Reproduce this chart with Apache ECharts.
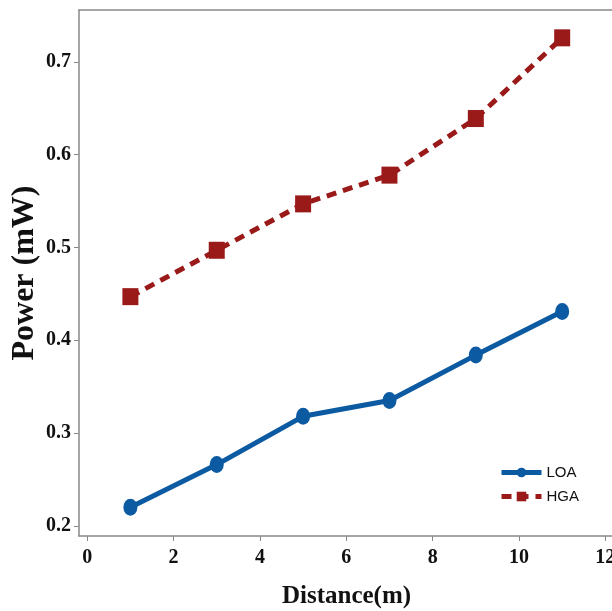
<!DOCTYPE html>
<html><head><meta charset="utf-8">
<script src="https://cdn.jsdelivr.net/npm/echarts@6/dist/echarts.min.js"></script>
<style>html,body{margin:0;padding:0;background:#fff}#c{width:612px;height:611px}</style>
</head><body><div id="c"></div>
<script>
const distance = [1, 3, 5, 7, 9, 11];
const loa = [0.220, 0.266, 0.318, 0.335, 0.384, 0.431];
const hga = [0.447, 0.497, 0.547, 0.578, 0.639, 0.726];
const xTicks = [0, 2, 4, 6, 8, 10, 12];
const yTicks = [0.2, 0.3, 0.4, 0.5, 0.6, 0.7];

const chart = echarts.init(document.getElementById('c'));
const tickFont = {fontFamily: 'Liberation Serif', fontWeight: 'bold', fontSize: 20, color: '#111'};
chart.setOption({
  animation: false,
  grid: {left: 79, right: -2, top: 10, bottom: 75, outerBoundsMode: 'none', containLabel: false},
  legend: {
    orient: 'vertical', left: 494, top: 460, itemWidth: 40, itemHeight: 12, itemGap: 9,
    lineStyle: {width: 5},
    textStyle: {fontFamily: 'Liberation Sans Narrow, Liberation Sans', fontSize: 15, color: '#111'},
    data: ['LOA', 'HGA']
  },
  xAxis: [{
    type: 'value', min: -0.19, max: 12.2, interval: 2,
    name: 'Distance(m)', nameLocation: 'middle', nameGap: 48, nameMoveOverlap: false,
    nameTextStyle: {fontFamily: 'Liberation Serif', fontWeight: 'bold', fontSize: 25, color: '#111'},
    axisLine: {show: true, onZero: false, lineStyle: {color: '#888', width: 1.5}},
    axisTick: {show: true, length: 5, lineStyle: {color: '#888'}, customValues: xTicks},
    axisLabel: Object.assign({margin: 12, customValues: xTicks}, tickFont),
    splitLine: {show: false}
  }, {
    type: 'value', position: 'top', min: -0.19, max: 12.2,
    axisLine: {show: true, onZero: false, lineStyle: {color: '#888', width: 1.5}},
    axisTick: {show: false}, axisLabel: {show: false}, splitLine: {show: false}
  }],
  yAxis: {
    type: 'value', min: 0.189, max: 0.756,
    name: 'Power (mW)', nameLocation: 'middle', nameGap: 38, nameMoveOverlap: false,
    nameTextStyle: {fontFamily: 'Liberation Serif', fontWeight: 'bold', fontSize: 32, color: '#111'},
    axisLine: {show: true, onZero: false, lineStyle: {color: '#888', width: 1.5}},
    axisTick: {show: true, length: 5, lineStyle: {color: '#888'}, customValues: yTicks},
    axisLabel: Object.assign({margin: 8, customValues: yTicks, formatter: v => v.toFixed(1)}, tickFont),
    splitLine: {show: false}
  },
  series: [{
    name: 'LOA', type: 'line', data: distance.map((d, i) => [d, loa[i]]),
    symbol: 'circle', symbolSize: [14, 17],
    lineStyle: {color: '#0b5aa2', width: 5},
    itemStyle: {color: '#0b5aa2'}
  }, {
    name: 'HGA', type: 'line', data: distance.map((d, i) => [d, hga[i]]),
    symbol: 'rect', symbolSize: [16, 17],
    lineStyle: {color: '#9a1a1a', width: 5, type: [10, 7]},
    itemStyle: {color: '#9a1a1a'}
  }]
});
</script></body></html>
